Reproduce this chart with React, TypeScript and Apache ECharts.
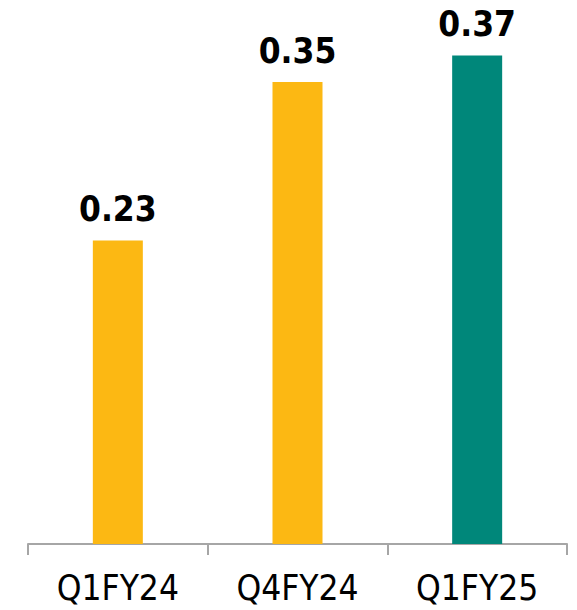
import React, { useEffect, useRef } from "react";
import * as echarts from "echarts";

const categories = ["Q1FY24", "Q4FY24", "Q1FY25"];
const values = [0.23, 0.35, 0.37];
const barColors = ["#FCB813", "#FCB813", "#00877A"];

export default function App() {
  const ref = useRef<HTMLDivElement>(null);
  useEffect(() => {
    if (!ref.current) return;
    const chart = echarts.init(ref.current, undefined, { renderer: "svg" });
    chart.setOption({
      animation: false,
      grid: { left: 28, right: 10, top: 16, bottom: 66 },
      xAxis: {
        type: "category",
        data: categories,
        axisLine: { lineStyle: { color: "#A6A6A6", width: 2 } },
        axisTick: { show: true, length: 11, lineStyle: { color: "#A6A6A6", width: 2 } },
        axisLabel: {
          margin: 26,
          color: "#000",
          fontFamily: "'DejaVu Sans Condensed'",
          fontSize: 35,
        },
      },
      yAxis: {
        type: "value",
        min: 0,
        max: 0.4,
        show: false,
        splitLine: { show: false },
      },
      series: [
        {
          type: "bar",
          barWidth: 50,
          data: values.map((v, i) => ({ value: v, itemStyle: { color: barColors[i] } })),
          label: {
            show: true,
            position: "top",
            distance: 14,
            color: "#000",
            fontFamily: "'DejaVu Sans Condensed'",
            fontWeight: "bold",
            fontSize: 35,
            formatter: (p: any) => p.value.toFixed(2),
          },
        },
      ],
    });
    return () => chart.dispose();
  }, []);
  return (
    <div
      ref={ref}
      style={{ position: "fixed", left: 0, top: 0, width: 577, height: 610, background: "#fff" }}
    />
  );
}
